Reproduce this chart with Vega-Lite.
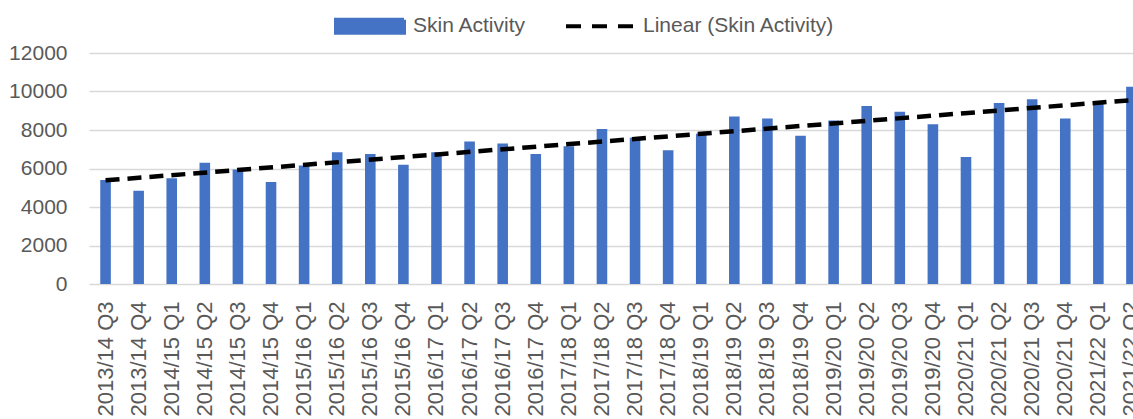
{
  "$schema": "https://vega.github.io/schema/vega-lite/v6.json",
  "autosize": {"type": "none"},
  "width": 1044,
  "height": 231,
  "padding": {"left": 89, "top": 53, "right": 0, "bottom": 135},
  "background": "white",
  "config": {
    "view": {"stroke": null},
    "font": "Liberation Sans"
  },
  "data": {
    "values": [
      {"quarter": "2013/14 Q3", "value": 5400},
      {"quarter": "2013/14 Q4", "value": 4850},
      {"quarter": "2014/15 Q1", "value": 5500},
      {"quarter": "2014/15 Q2", "value": 6300},
      {"quarter": "2014/15 Q3", "value": 5950},
      {"quarter": "2014/15 Q4", "value": 5300},
      {"quarter": "2015/16 Q1", "value": 6150},
      {"quarter": "2015/16 Q2", "value": 6850},
      {"quarter": "2015/16 Q3", "value": 6750},
      {"quarter": "2015/16 Q4", "value": 6200},
      {"quarter": "2016/17 Q1", "value": 6850},
      {"quarter": "2016/17 Q2", "value": 7400},
      {"quarter": "2016/17 Q3", "value": 7300},
      {"quarter": "2016/17 Q4", "value": 6750},
      {"quarter": "2017/18 Q1", "value": 7150},
      {"quarter": "2017/18 Q2", "value": 8050},
      {"quarter": "2017/18 Q3", "value": 7600},
      {"quarter": "2017/18 Q4", "value": 6950},
      {"quarter": "2018/19 Q1", "value": 7800},
      {"quarter": "2018/19 Q2", "value": 8700},
      {"quarter": "2018/19 Q3", "value": 8600},
      {"quarter": "2018/19 Q4", "value": 7700},
      {"quarter": "2019/20 Q1", "value": 8500},
      {"quarter": "2019/20 Q2", "value": 9250},
      {"quarter": "2019/20 Q3", "value": 8950},
      {"quarter": "2019/20 Q4", "value": 8300},
      {"quarter": "2020/21 Q1", "value": 6600},
      {"quarter": "2020/21 Q2", "value": 9400},
      {"quarter": "2020/21 Q3", "value": 9600},
      {"quarter": "2020/21 Q4", "value": 8600},
      {"quarter": "2021/22 Q1", "value": 9400},
      {"quarter": "2021/22 Q2", "value": 10250}
    ]
  },
  "resolve": {"scale": {"x": "independent"}},
  "layer": [
    {
      "mark": {"type": "bar"},
      "encoding": {
        "x": {
          "field": "quarter",
          "type": "nominal",
          "sort": null,
          "scale": {"range": [0, 1059], "paddingInner": 0.68, "paddingOuter": 0.34},
          "axis": {
            "title": null,
            "labelAngle": -90,
            "labelFontSize": 22,
            "labelColor": "#595959",
            "labelFont": "Liberation Sans",
            "ticks": false,
            "tickSize": 0,
            "labelPadding": 17,
            "domain": false,
            "grid": false,
            "labelOverlap": false,
            "labelLimit": 300
          }
        },
        "y": {
          "field": "value",
          "type": "quantitative",
          "scale": {"domain": [0, 12000], "nice": false},
          "axis": {
            "title": null,
            "values": [0, 2000, 4000, 6000, 8000, 10000, 12000],
            "format": "d",
            "labelOverlap": false,
            "labelFontSize": 21,
            "labelColor": "#595959",
            "labelFont": "Liberation Sans",
            "ticks": false,
            "domain": false,
            "labelPadding": 22,
            "gridColor": "#d9d9d9",
            "gridWidth": 1.5
          }
        },
        "color": {
          "datum": "Skin Activity",
          "scale": {"domain": ["Skin Activity", "Linear (Skin Activity)"], "range": ["#4472C4", "#000000"]},
          "legend": {
            "title": null,
            "orient": "none",
            "legendX": 245,
            "legendY": -63,
            "direction": "horizontal",
            "padding": 0,
            "symbolSize": 4624,
            "labelFontSize": 21,
            "labelColor": "#595959",
            "labelFont": "Liberation Sans",
            "labelOffset": 7,
            "columnPadding": 31,
            "labelLimit": 400,
            "encode": {
              "symbols": {
                "update": {
                  "shape": {"signal": "datum.value === 'Skin Activity' ? 'M-1,-0.19H1V0.19H-1Z' : 'M-1,-0.19M-1,0H1M1,0.19'"},
                  "fill": {"signal": "datum.value === 'Skin Activity' ? '#4472C4' : 'transparent'"},
                  "stroke": {"signal": "datum.value === 'Skin Activity' ? 'transparent' : '#000000'"},
                  "strokeDash": {"signal": "datum.value === 'Skin Activity' ? [1, 0] : [15, 11]"},
                  "strokeWidth": {"value": 4},
                  "opacity": {"value": 1}
                }
              }
            }
          }
        }
      }
    },
    {
      "transform": [
        {"window": [{"op": "row_number", "as": "idx"}]},
        {"regression": "value", "on": "idx", "method": "linear", "extent": [1, 32]}
      ],
      "mark": {"type": "line", "strokeWidth": 4.5, "strokeDash": [14, 8]},
      "encoding": {
        "x": {
          "field": "idx",
          "type": "quantitative",
          "scale": {"domain": [0.5, 32.5], "range": [0, 1059], "nice": false, "zero": false},
          "axis": null
        },
        "y": {
          "field": "value",
          "type": "quantitative",
          "axis": {
            "title": null,
            "values": [0, 2000, 4000, 6000, 8000, 10000, 12000],
            "format": "d",
            "labelOverlap": false,
            "labelFontSize": 21,
            "labelColor": "#595959",
            "labelFont": "Liberation Sans",
            "ticks": false,
            "domain": false,
            "labelPadding": 22,
            "gridColor": "#d9d9d9",
            "gridWidth": 1.5
          }
        },
        "color": {"datum": "Linear (Skin Activity)"}
      }
    }
  ]
}
